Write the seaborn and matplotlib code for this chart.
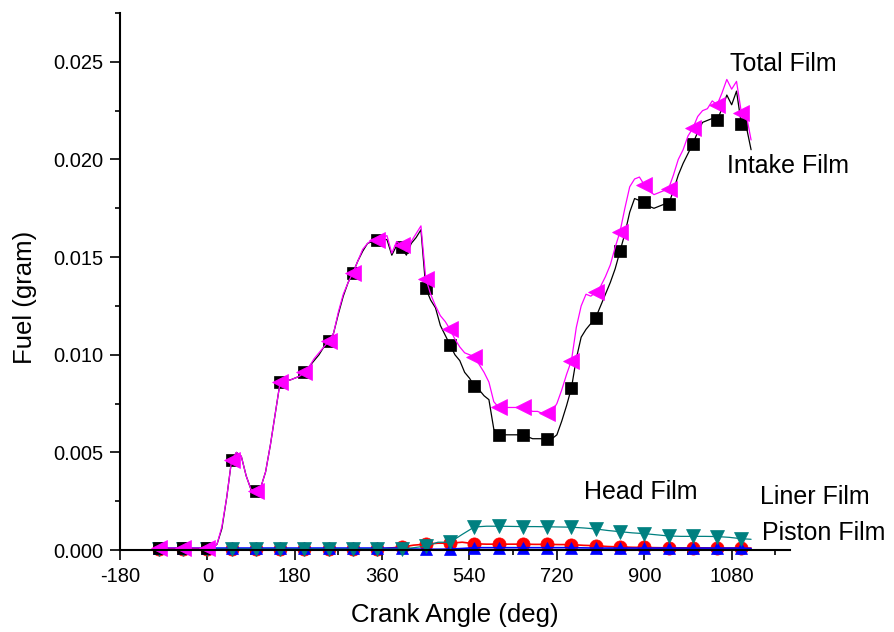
import numpy as np
import pandas as pd
import seaborn as sns
import matplotlib
matplotlib.use('Agg')
import matplotlib.pyplot as plt
from matplotlib.ticker import MultipleLocator, FormatStrFormatter

# crank angle grid of the film curves (deg)
angle = list(range(-100, 1121, 10))

total_film = [
    0.0001, 0.0001, 0.0001, 0.0001, 0.0001, 0.0001, 0.0001, 0.0001, 0.0001, 0.0001,  # -100..-10
    0.0001, 0.0001, 0.0003, 0.0012, 0.0027, 0.0046, 0.0050, 0.0048, 0.0038, 0.0031,  # 0..90
    0.0030, 0.0032, 0.0040, 0.0054, 0.0070, 0.0086, 0.0088, 0.0087, 0.0088, 0.0089,  # 100..190
    0.0091, 0.0094, 0.0098, 0.0101, 0.0104, 0.0107, 0.0111, 0.0122, 0.0131, 0.0137,  # 200..290
    0.0142, 0.0148, 0.0154, 0.0157, 0.0159, 0.0159, 0.0160, 0.0161, 0.0152, 0.0158,  # 300..390
    0.0156, 0.0153, 0.0158, 0.0162, 0.0166, 0.0139, 0.0131, 0.0125, 0.0120, 0.0117,  # 400..490
    0.0113, 0.0108, 0.0104, 0.0101, 0.0100, 0.0099, 0.0095, 0.0091, 0.0086, 0.0076,  # 500..590
    0.0073, 0.0073, 0.0073, 0.0073, 0.0073, 0.0073, 0.0072, 0.0071, 0.0071, 0.0070,  # 600..690
    0.0070, 0.0071, 0.0075, 0.0082, 0.0090, 0.0097, 0.0114, 0.0125, 0.0131, 0.0130,  # 700..790
    0.0132, 0.0135, 0.0140, 0.0146, 0.0155, 0.0163, 0.0175, 0.0186, 0.0190, 0.0191,  # 800..890
    0.0187, 0.0184, 0.0182, 0.0183, 0.0184, 0.0185, 0.0192, 0.0200, 0.0205, 0.0212,  # 900..990
    0.0216, 0.0222, 0.0225, 0.0226, 0.0230, 0.0228, 0.0234, 0.0241, 0.0236, 0.0240,  # 1000..1090
    0.0224, 0.0223, 0.0210,                                                          # 1100..1120
]

intake_film = [
    0.00008, 0.00008, 0.00008, 0.00008, 0.00008, 0.00008, 0.00008, 0.00008, 0.00008, 0.00008,
    0.00008, 0.00008, 0.0003, 0.0011, 0.0027, 0.0046, 0.0050, 0.0048, 0.0038, 0.0031,
    0.0030, 0.0032, 0.0040, 0.0054, 0.0070, 0.0086, 0.0088, 0.0087, 0.0088, 0.0089,
    0.0091, 0.0094, 0.0097, 0.0100, 0.0104, 0.0107, 0.0111, 0.0121, 0.0130, 0.0137,
    0.0142, 0.0148, 0.0153, 0.0157, 0.0158, 0.0159, 0.0159, 0.0159, 0.0151, 0.0156,
    0.0155, 0.0151, 0.0157, 0.0160, 0.0164, 0.0134, 0.0128, 0.0124, 0.0115, 0.0110,
    0.0105, 0.0100, 0.0097, 0.0091, 0.0088, 0.0084, 0.0082, 0.0079, 0.0077, 0.0062,
    0.0059, 0.0059, 0.0059, 0.0059, 0.0059, 0.0059, 0.0058, 0.0057, 0.0057, 0.0057,
    0.0057, 0.0057, 0.0059, 0.0066, 0.0074, 0.0083, 0.0098, 0.0109, 0.0113, 0.0116,
    0.0119, 0.0125, 0.0131, 0.0137, 0.0144, 0.0153, 0.0162, 0.0173, 0.0180, 0.0179,
    0.0178, 0.0176, 0.0175, 0.0176, 0.0177, 0.0177, 0.0184, 0.0192, 0.0198, 0.0203,
    0.0208, 0.0214, 0.0219, 0.0220, 0.0221, 0.0220, 0.0226, 0.0233, 0.0228, 0.0235,
    0.0218, 0.0217, 0.0205,
]

# coarser grid for the three small films
angle_small = list(range(-100, 1101, 25)) + [1120]

liner_film = [
    0.00005, 0.00005, 0.00005, 0.00005, 0.00005, 0.00005, 0.00005, 0.00005,  # -100..75
    0.00005, 0.00005, 0.00005, 0.00005, 0.00005, 0.00005, 0.00005, 0.00005,  # 100..275
    0.00005, 0.00005, 0.00005, 0.00005, 0.00005, 0.00012, 0.0002, 0.0004,    # 300..475
    0.0004, 0.0008, 0.00118, 0.00122, 0.00122, 0.00121, 0.0012, 0.0012,      # 500..675
    0.00119, 0.00118, 0.00117, 0.00113, 0.00108, 0.0010, 0.00094, 0.00088,   # 700..875
    0.00084, 0.00078, 0.00072, 0.0007, 0.0007, 0.0007, 0.00069, 0.00065,     # 900..1075
    0.00058, 0.00055,                                                        # 1100, 1120
]

head_film = [
    0.00003, 0.00003, 0.00003, 0.00003, 0.00003, 0.00003, 0.00003, 0.00003,
    0.00003, 0.00003, 0.00003, 0.00003, 0.00003, 0.00003, 0.00003, 0.00003,
    0.00003, 0.00003, 0.00003, 0.0001, 0.00015, 0.00025, 0.0003, 0.00035,
    0.00035, 0.0004, 0.00032, 0.0003, 0.0003, 0.0003, 0.0003, 0.00029,
    0.00029, 0.00028, 0.00028, 0.00024, 0.00022, 0.00018, 0.00016, 0.00014,
    0.00013, 0.00012, 0.00011, 0.00011, 0.00011, 0.00011, 0.0001, 0.0001,
    0.0001, 0.0001,
]

piston_film = [
    0.0001, 0.0001, 0.0001, 0.0001, 0.0001, 0.0001, 0.0001, 0.0001,
    0.0001, 0.0001, 0.0001, 0.0001, 0.0001, 0.0001, 0.0001, 0.0001,
    0.0001, 0.0001, 0.0001, 0.0001, 0.0001, 0.00005, 0.00004, 0.00004,
    0.00005, 0.00008, 0.00012, 0.00012, 0.00012, 0.00012, 0.00012, 0.00012,
    0.00012, 0.00012, 0.00012, 0.00011, 0.0001, 0.0001, 0.0001, 0.0001,
    0.0001, 0.0001, 0.0001, 0.0001, 0.0001, 0.0001, 0.0001, 0.0001,
    0.0001, 0.00008,
]

film_labels = ['Total Film', 'Intake Film', 'Head Film', 'Liner Film', 'Piston Film']

sns.set_style('ticks')
plt.rcParams['font.family'] = ['Liberation Sans', 'DejaVu Sans']
plt.rcParams['axes.unicode_minus'] = False
for k in ['text.color', 'axes.labelcolor', 'xtick.color', 'ytick.color', 'axes.edgecolor']:
    plt.rcParams[k] = 'black'

fig = plt.figure(figsize=(8.95, 6.32), dpi=100)
ax = fig.add_axes([0.134, 0.1297, 0.7486, 0.8497])

big = pd.DataFrame({'angle': angle, 'total': total_film, 'intake': intake_film})
small = pd.DataFrame({'angle': angle_small, 'liner': liner_film,
                      'head': head_film, 'piston': piston_film})
mark_big = list(big['angle'] % 50 == 0)
mark_small = list(small['angle'] % 50 == 0)

series = [
    (small, 'head', '#ff0000', 'o', 9.5, mark_small, 1.2),
    (small, 'piston', '#0000ff', '^', 8, mark_small, 1.2),
    (small, 'liner', '#008080', 'v', 9.5, mark_small, 0.9),
    (big, 'intake', '#000000', 's', 8.5, mark_big, 0.9),
    (big, 'total', '#ff00ff', '<', 11, mark_big, 0.9),
]
for df, col, c, m, ms, mk, lw in series:
    sns.lineplot(data=df, x='angle', y=col, ax=ax, color=c, marker=m,
                 markersize=ms, markevery=mk, markeredgecolor=c,
                 markeredgewidth=0.5, linewidth=lw, estimator=None,
                 sort=False, clip_on=False)

ax.set_xlim(-180, 1200)
ax.set_ylim(0, 0.0275)
ax.xaxis.set_major_locator(MultipleLocator(180))
ax.xaxis.set_minor_locator(MultipleLocator(90))
ax.yaxis.set_major_locator(MultipleLocator(0.005))
ax.yaxis.set_minor_locator(MultipleLocator(0.0025))
ax.yaxis.set_major_formatter(FormatStrFormatter('%.3f'))
ax.tick_params(which='major', direction='out', length=7, width=1.2,
               labelsize=14.5, pad=5, color='black', labelcolor='black')
ax.tick_params(which='minor', direction='out', length=3.8, width=1.2, color='black')

for s in ['top', 'right']:
    ax.spines[s].set_visible(False)
for s in ['left', 'bottom']:
    ax.spines[s].set_linewidth(1.5)
    ax.spines[s].set_color('black')

ax.set_xlabel('Crank Angle (deg)', fontsize=18.5)
ax.set_ylabel('Fuel (gram)', fontsize=18.5)
ax.xaxis.set_label_coords(0.5, -0.098)
ax.yaxis.set_label_coords(-0.124, 0.47)

label_pos = [(1076, 0.0249), (1071, 0.01967), (776, 0.00297),
             (1139, 0.00272), (1143, 0.00087)]
for name, (lx, ly) in zip(film_labels, label_pos):
    ax.text(lx, ly, name, fontsize=18, ha='left', va='center', color='black')

fig.savefig('out.png', dpi=100)
